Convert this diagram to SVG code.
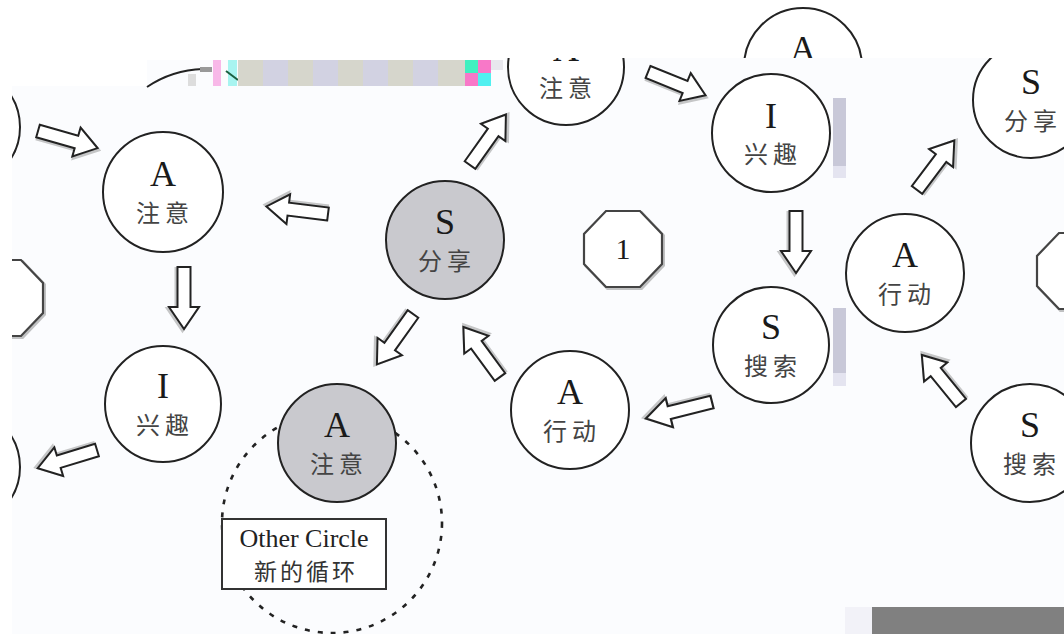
<svg xmlns="http://www.w3.org/2000/svg" width="1064" height="634" viewBox="0 0 1064 634">
<style>
.c{fill:#fff;stroke:#222;stroke-width:2}
.g{fill:#c9c9ce;stroke:#222;stroke-width:2}
.oc{fill:#fff;stroke:#444;stroke-width:2.2}
.ocs{fill:none;stroke:#999;stroke-width:3;opacity:.6}
.L{font-family:"Liberation Serif",serif;font-size:36px;fill:#1a1a1a;text-anchor:middle}
.Z{font-family:"Liberation Serif","Noto Sans CJK SC",sans-serif;font-size:24px;fill:#444;text-anchor:middle;letter-spacing:5px}
.arr{fill:#fff;stroke:#222;stroke-width:2;stroke-linejoin:miter}
.arrsh{fill:none;stroke:#999;stroke-width:3;opacity:.55}
</style>
<defs>
<clipPath id="main"><path d="M12,86 H147 V60 H505 V58 H1064 V634 H12 Z"/></clipPath>
<clipPath id="topc"><rect x="0" y="0" width="1064" height="58"/></clipPath>
<g id="blk">
<path class="arrsh" transform="translate(1.5,1.5)" d="M0,-6.5 H40 V-15 L62,0 L40,15 V6.5 H0 Z"/>
<path class="arr" d="M0,-6.5 H40 V-15 L62,0 L40,15 V6.5 H0 Z"/>
</g>
<polygon id="oct" points="-17,-38 17,-38 39,-15 39,15 17,38 -17,38 -39,15 -39,-15"/>
</defs>
<rect width="1064" height="634" fill="#fff"/>
<g id="topA" clip-path="url(#topc)">
<circle class="c" cx="803" cy="67" r="59"/>
<text class="L" x="803" y="61">A</text>
</g>
<g clip-path="url(#main)">
<rect x="12" y="58" width="1052" height="576" fill="#fbfcfe"/>
<path d="M147,87 Q172,70 203,69" fill="none" stroke="#222" stroke-width="2"/>
<g id="edgeL1"><circle class="c" cx="-39" cy="127" r="59"/></g>
<g id="edgeL2"><circle class="c" cx="-39" cy="467" r="59"/></g>
<g id="oct2"><use href="#oct" class="ocs" transform="translate(5.5,299.5)"/><use href="#oct" class="oc" transform="translate(4,298)"/><text class="L" x="4" y="308" style="font-size:30px">2</text></g>
<g id="oct3"><use href="#oct" class="ocs" transform="translate(1077.5,272.5)"/><use href="#oct" class="oc" transform="translate(1076,271)"/></g>
<g id="n-dashed"><circle cx="332" cy="523" r="110" fill="none" stroke="#222" stroke-width="2.6" stroke-dasharray="5 8"/></g>
<g id="n-A-left"><circle class="c" cx="163" cy="192" r="60"/><text class="L" x="163" y="186">A</text><text class="Z" x="165" y="222">注意</text></g>
<g id="n-I-left"><circle class="c" cx="163" cy="404" r="58"/><text class="L" x="163" y="398">I</text><text class="Z" x="165" y="434">兴趣</text></g>
<g id="n-A-grey"><circle class="g" cx="337" cy="443" r="59"/><text class="L" x="337" y="437">A</text><text class="Z" x="339" y="473">注意</text></g>
<g id="n-box"><rect x="222" y="519" width="164" height="70" fill="#fff" stroke="#333" stroke-width="2"/><text x="304" y="547" style="font-family:'Liberation Serif',serif;font-size:26px;fill:#222;text-anchor:middle">Other Circle</text><text class="Z" x="306" y="580" style="font-size:23px;fill:#333;letter-spacing:3px">新的循环</text></g>
<g id="n-S-grey"><circle class="g" cx="445" cy="240" r="59"/><text class="L" x="445" y="234">S</text><text class="Z" x="447" y="270">分享</text></g>
<g id="n-A-top"><circle class="c" cx="566" cy="67" r="58"/><text class="L" x="566" y="61">A</text><text class="Z" x="568" y="97">注意</text></g>
<g id="n-I-top"><circle class="c" cx="771" cy="133" r="59"/><text class="L" x="771" y="128">I</text><text class="Z" x="773" y="163">兴趣</text></g>
<g id="n-S-mid"><circle class="c" cx="771" cy="345" r="58"/><text class="L" x="771" y="339">S</text><text class="Z" x="773" y="375">搜索</text></g>
<g id="n-A-bot"><circle class="c" cx="570" cy="410" r="59"/><text class="L" x="570" y="404">A</text><text class="Z" x="572" y="440">行动</text></g>
<g id="n-A-right"><circle class="c" cx="905" cy="273" r="59"/><text class="L" x="905" y="267">A</text><text class="Z" x="907" y="303">行动</text></g>
<g id="n-S-topright"><circle class="c" cx="1031" cy="100" r="58"/><text class="L" x="1031" y="94">S</text><text class="Z" x="1033" y="130">分享</text></g>
<g id="n-S-botright"><circle class="c" cx="1030" cy="443" r="59"/><text class="L" x="1030" y="437">S</text><text class="Z" x="1032" y="473">搜索</text></g>
<g id="n-oct1"><use href="#oct" class="ocs" transform="translate(624.5,250.5)"/><use href="#oct" class="oc" transform="translate(623,249)"/><text class="L" x="623" y="259" style="font-size:30px">1</text></g>
<g id="connectors">
<use href="#blk" transform="translate(38,131) rotate(16)"/>
<use href="#blk" transform="translate(328,214) rotate(187)"/>
<use href="#blk" transform="translate(184,267) rotate(90)"/>
<use href="#blk" transform="translate(97,450) rotate(163)"/>
<use href="#blk" transform="translate(413,314) rotate(125.6)"/>
<use href="#blk" transform="translate(500,377) rotate(233.8)"/>
<use href="#blk" transform="translate(470,165) rotate(-54.6)"/>
<use href="#blk" transform="translate(648,72) rotate(22)"/>
<use href="#blk" transform="translate(796,211) rotate(90)"/>
<use href="#blk" transform="translate(712,402) rotate(166) scale(1.1,1)"/>
<use href="#blk" transform="translate(917,190) rotate(-53)"/>
<use href="#blk" transform="translate(961,403) rotate(230.8)"/>
</g>
<rect x="833" y="98" width="13" height="68" fill="#c8c8d8"/>
<rect x="833" y="166" width="13" height="12" fill="#e4e4f0"/>
<rect x="833" y="308" width="13" height="65" fill="#c8c8d8"/>
<rect x="833" y="373" width="13" height="13" fill="#e4e4f0"/>
</g>
<g id="artifacts">
<rect x="200" y="67" width="12" height="5" fill="#999"/>
<rect x="188" y="74" width="8" height="12" fill="#ddd"/>
<rect x="213" y="60" width="8" height="26" fill="#f8b8e8"/>
<rect x="228" y="60" width="9" height="26" fill="#a8f4f0"/>
<line x1="226" y1="71" x2="238" y2="80" stroke="#1a6040" stroke-width="2"/>
<rect x="238" y="60" width="227" height="26" fill="#d2d2e2"/>
<rect x="238" y="60" width="25" height="26" fill="#d6d6cc"/>
<rect x="288" y="60" width="25" height="26" fill="#d6d6cc"/>
<rect x="338" y="60" width="25" height="26" fill="#d6d6cc"/>
<rect x="388" y="60" width="25" height="26" fill="#d6d6cc"/>
<rect x="438" y="60" width="27" height="26" fill="#d6d6cc"/>
<rect x="465" y="60" width="13" height="13" fill="#40f0c0"/>
<rect x="465" y="73" width="13" height="13" fill="#f878c8"/>
<rect x="478" y="60" width="13" height="13" fill="#f878c8"/>
<rect x="478" y="73" width="13" height="13" fill="#50f0f0"/>
<rect x="491" y="60" width="12" height="10" fill="#e8e8ee"/>
<rect x="845" y="607" width="27" height="27" fill="#f2f2f8"/>
<rect x="872" y="607" width="192" height="27" fill="#808080"/>
</g>
</svg>
